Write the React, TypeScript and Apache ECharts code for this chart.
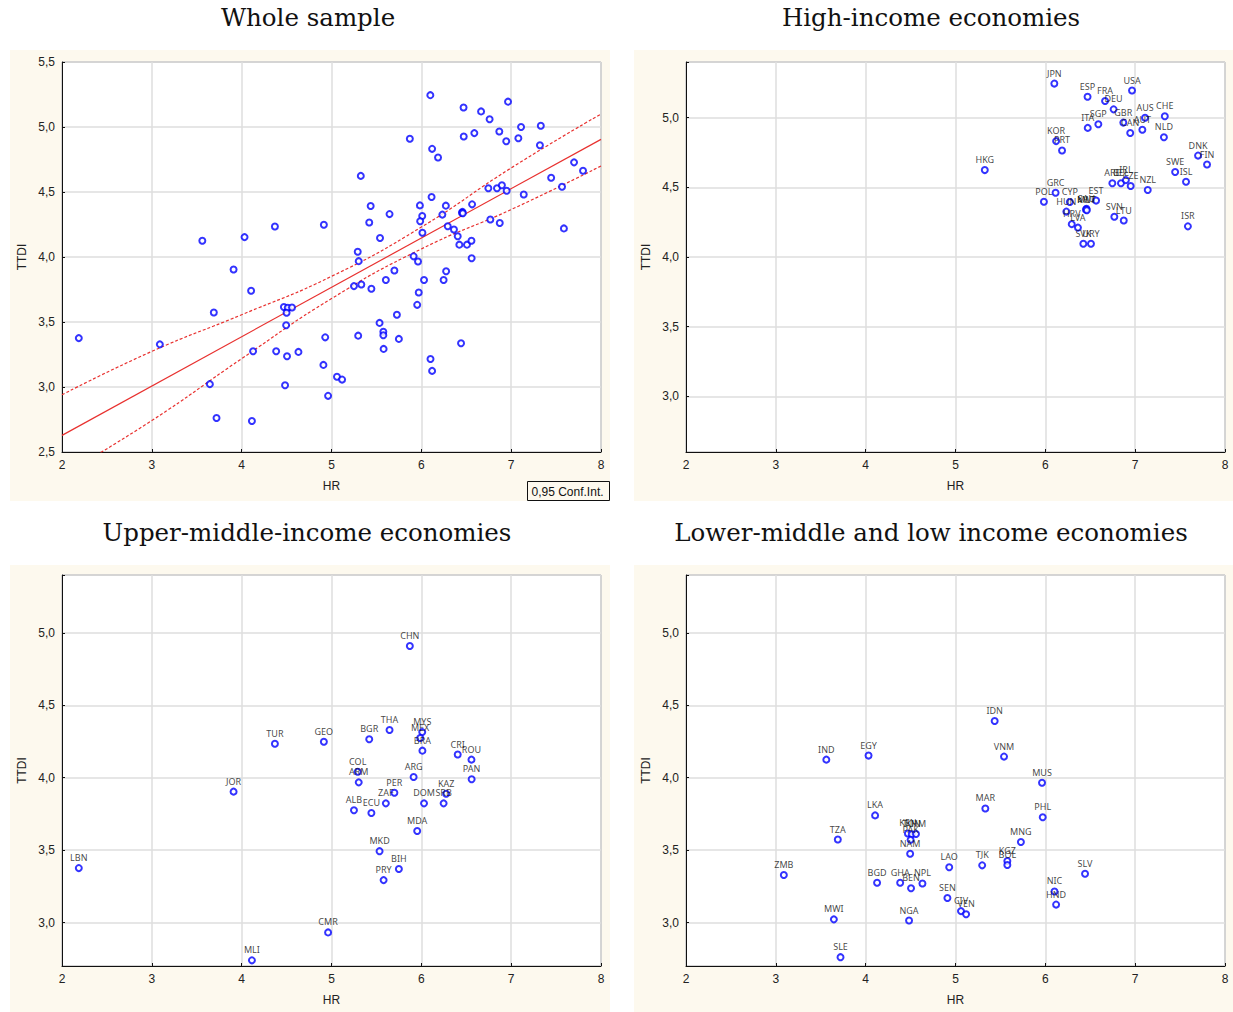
import React, { useEffect, useRef } from "react";
import * as echarts from "echarts";

// [country, HR, TTDI]
const highIncome: [string, number, number][] = [
  ["JPN", 6.10, 5.245], ["ESP", 6.47, 5.15], ["FRA", 6.665, 5.12], ["DEU", 6.76, 5.06],
  ["USA", 6.965, 5.195], ["CHE", 7.33, 5.01], ["AUS", 7.11, 5.0], ["AUT", 7.08, 4.913],
  ["GBR", 6.868, 4.965], ["CAN", 6.945, 4.89], ["SGP", 6.59, 4.953], ["ITA", 6.472, 4.927],
  ["NLD", 7.32, 4.86], ["KOR", 6.12, 4.832], ["PRT", 6.186, 4.765], ["HKG", 5.326, 4.624],
  ["DNK", 7.70, 4.728], ["FIN", 7.80, 4.664], ["SWE", 7.445, 4.61], ["ISL", 7.566, 4.54],
  ["ISR", 7.587, 4.22], ["ARE", 6.746, 4.529], ["BEL", 6.842, 4.529], ["IRL", 6.897, 4.552],
  ["CZE", 6.95, 4.51], ["NZL", 7.14, 4.481], ["POL", 5.984, 4.397], ["GRC", 6.114, 4.461],
  ["CYP", 6.273, 4.395], ["HUN", 6.234, 4.326], ["HRV", 6.294, 4.236], ["LVA", 6.363, 4.211],
  ["SAU", 6.458, 4.347], ["MLT", 6.452, 4.34], ["KWT", 6.462, 4.336], ["EST", 6.565, 4.405],
  ["SVN", 6.768, 4.289], ["LTU", 6.873, 4.262], ["SVK", 6.423, 4.095], ["URY", 6.508, 4.095],
];

const upperMiddle: [string, number, number][] = [
  ["CHN", 5.872, 4.91], ["TUR", 4.37, 4.235], ["GEO", 4.915, 4.248], ["BGR", 5.42, 4.266],
  ["THA", 5.646, 4.33], ["MYS", 6.01, 4.315], ["MEX", 5.987, 4.275], ["BRA", 6.012, 4.187],
  ["CRI", 6.405, 4.16], ["ROU", 6.558, 4.125], ["PAN", 6.56, 3.99], ["ARG", 5.914, 4.005],
  ["COL", 5.292, 4.041], ["ARM", 5.303, 3.968], ["JOR", 3.91, 3.904], ["PER", 5.70, 3.896],
  ["ZAF", 5.605, 3.823], ["ALB", 5.25, 3.776], ["ECU", 5.444, 3.756], ["DOM", 6.03, 3.823],
  ["SRB", 6.248, 3.823], ["KAZ", 6.276, 3.89], ["MDA", 5.954, 3.632], ["MKD", 5.535, 3.493],
  ["BIH", 5.75, 3.37], ["PRY", 5.58, 3.293], ["CMR", 4.962, 2.932], ["MLI", 4.114, 2.739],
  ["LBN", 2.187, 3.376],
];

const lowerMiddle: [string, number, number][] = [
  ["IDN", 5.436, 4.392], ["IND", 3.562, 4.125], ["EGY", 4.032, 4.153], ["VNM", 5.54, 4.146],
  ["MUS", 5.963, 3.965], ["MAR", 5.332, 3.788], ["PHL", 5.971, 3.727], ["LKA", 4.105, 3.74],
  ["TZA", 3.69, 3.573], ["KEN", 4.47, 3.615], ["TUN", 4.513, 3.61], ["KHM", 4.56, 3.612],
  ["PAK", 4.50, 3.571], ["NAM", 4.495, 3.475], ["ZMB", 3.089, 3.328], ["LAO", 4.93, 3.382],
  ["TJK", 5.297, 3.395], ["KGZ", 5.577, 3.425], ["BOL", 5.577, 3.398], ["MNG", 5.728, 3.556],
  ["SLV", 6.442, 3.337], ["BGD", 4.127, 3.275], ["GHA", 4.384, 3.275], ["BEN", 4.505, 3.237],
  ["NPL", 4.632, 3.27], ["SEN", 4.91, 3.17], ["CIV", 5.061, 3.079], ["VEN", 5.118, 3.057],
  ["NIC", 6.102, 3.215], ["HND", 6.12, 3.124], ["MWI", 3.646, 3.022], ["NGA", 4.483, 3.014],
  ["SLE", 3.72, 2.761],
];

// regression line and 95% confidence band
const fitX = [2, 8];
const fitY = [2.628, 4.905];
const bandX = [2, 3, 4, 5, 6, 7, 8];
const upperBandY = [2.94, 3.274, 3.556, 3.851, 4.23, 4.685, 5.1];
const lowerBandY = [2.32, 2.742, 3.218, 3.68, 4.062, 4.365, 4.7];

const panelTitles = [
  "Whole sample",
  "High-income economies",
  "Upper-middle-income economies",
  "Lower-middle and low income economies",
];
const yRanges: [number, number][] = [
  [2.5, 5.5],
  [2.6, 5.4],
  [2.7, 5.4],
  [2.7, 5.4],
];

const grids = [
  { left: 62, top: 62, width: 539, height: 390 },
  { left: 686, top: 62, width: 539, height: 390 },
  { left: 62, top: 575, width: 539, height: 391 },
  { left: 686, top: 575, width: 539, height: 391 },
];
const panelBoxes = [
  { x: 10, y: 50, w: 600, h: 451 },
  { x: 634, y: 50, w: 599, h: 451 },
  { x: 10, y: 565, w: 600, h: 447 },
  { x: 634, y: 565, w: 599, h: 447 },
];
const titlePos = [
  { x: 308, y: 5 },
  { x: 931, y: 5 },
  { x: 307, y: 520 },
  { x: 931, y: 520 },
];

const SANS = "Liberation Sans, Arial, sans-serif";
const CREAM = "#fdf9ee";

const fmt = (v: number) => {
  if (Math.abs(v * 2 - Math.round(v * 2)) > 1e-6) return "";
  return v.toFixed(1).replace(".", ",");
};

export default function App() {
  const ref = useRef<HTMLDivElement>(null);
  useEffect(() => {
    if (!ref.current) return;
    const chart = echarts.init(ref.current, undefined, { renderer: "svg" });

    const toPts = (arr: [string, number, number][]) =>
      arr.map((d) => ({ name: d[0], value: [d[1], d[2]] }));

    const groups = [highIncome, upperMiddle, lowerMiddle];
    const all = [...highIncome, ...upperMiddle, ...lowerMiddle];

    const xAxes = grids.map((_, i) => ({
      gridIndex: i,
      type: "value",
      min: 2,
      max: 8,
      interval: 1,
      name: "HR",
      nameLocation: "middle",
      nameGap: 28,
      nameTextStyle: { fontFamily: SANS, fontSize: 12, color: "#222" },
      axisLine: { show: true, onZero: false, lineStyle: { color: "#111", width: 1 } },
      axisTick: { show: true, inside: true, length: 3, lineStyle: { color: "#111" } },
      axisLabel: { fontFamily: SANS, fontSize: 12, color: "#222", margin: 7 },
      splitLine: { show: true, lineStyle: { color: "#dedede", width: 1.5 } },
    }));

    const yAxes = grids.map((_, i) => ({
      gridIndex: i,
      type: "value",
      min: yRanges[i][0],
      max: yRanges[i][1],
      ...(i === 0 ? { interval: 0.5 } : { splitNumber: 5 }),
      name: "TTDI",
      nameLocation: "middle",
      nameRotate: 90,
      nameGap: 34,
      nameTextStyle: { fontFamily: SANS, fontSize: 12, color: "#222" },
      axisLine: { show: true, onZero: false, lineStyle: { color: "#111", width: 1 } },
      axisTick: { show: true, inside: true, length: 3, lineStyle: { color: "#111" } },
      axisLabel: { fontFamily: SANS, fontSize: 12, color: "#222", margin: 7, formatter: fmt },
      splitLine: { show: true, lineStyle: { color: "#dedede", width: 1.5 } },
    }));

    const scatterStyle = {
      symbol: "emptyCircle",
      symbolSize: 6,
      itemStyle: { color: "#0000ff", borderColor: "#0000ff", borderWidth: 1.4 },
    };

    const series: any[] = [
      {
        type: "scatter",
        xAxisIndex: 0,
        yAxisIndex: 0,
        data: toPts(all),
        ...scatterStyle,
        z: 3,
      },
      {
        type: "line",
        xAxisIndex: 0,
        yAxisIndex: 0,
        data: fitX.map((x, k) => [x, fitY[k]]),
        showSymbol: false,
        lineStyle: { color: "#e8312f", width: 1.2 },
        z: 2,
      },
      {
        type: "line",
        xAxisIndex: 0,
        yAxisIndex: 0,
        smooth: true,
        data: bandX.map((x, k) => [x, upperBandY[k]]),
        showSymbol: false,
        lineStyle: { color: "#e8312f", width: 1.2, type: [3, 2] },
        z: 2,
      },
      {
        type: "line",
        xAxisIndex: 0,
        yAxisIndex: 0,
        smooth: true,
        data: bandX.map((x, k) => [x, lowerBandY[k]]),
        showSymbol: false,
        lineStyle: { color: "#e8312f", width: 1.2, type: [3, 2] },
        z: 2,
      },
    ];

    groups.forEach((g, gi) => {
      series.push({
        type: "scatter",
        xAxisIndex: gi + 1,
        yAxisIndex: gi + 1,
        data: toPts(g),
        ...scatterStyle,
        label: {
          show: true,
          position: "top",
          distance: 2,
          formatter: "{b}",
          fontFamily: "Noto Sans, sans-serif",
          fontSize: 9,
          color: "#111",
        },
        labelLayout: { hideOverlap: false },
      });
    });

    const graphics: any[] = panelBoxes.map((b) => ({
      type: "rect",
      silent: true,
      z: -100,
      shape: { x: b.x, y: b.y, width: b.w, height: b.h },
      style: { fill: CREAM },
    }));
    graphics.push({
      type: "group",
      left: 527,
      top: 481,
      children: [
        {
          type: "rect",
          shape: { x: 0, y: 0, width: 82, height: 19 },
          style: { fill: CREAM, stroke: "#111", lineWidth: 1 },
        },
        {
          type: "text",
          x: 4,
          y: 10,
          style: {
            text: "0,95 Conf.Int.",
            font: "12px " + SANS,
            fill: "#111",
            textVerticalAlign: "middle",
            verticalAlign: "middle",
          },
        },
      ],
    });

    chart.setOption({
      animation: false,
      backgroundColor: "#ffffff",
      title: panelTitles.map((t, i) => ({
        text: t,
        left: titlePos[i].x,
        top: titlePos[i].y,
        padding: 0,
        textAlign: "center",
        textStyle: {
          fontFamily: "DejaVu Serif, serif",
          fontSize: 24.5,
          fontWeight: "normal",
          color: "#111",
        },
      })),
      grid: grids.map((g) => ({
        ...g,
        show: true,
        backgroundColor: "#ffffff",
        borderColor: "#777",
        borderWidth: 1,
        containLabel: false,
      })),
      xAxis: xAxes,
      yAxis: yAxes,
      series,
      graphic: graphics,
    });

    return () => chart.dispose();
  }, []);

  return (
    <div
      ref={ref}
      style={{ position: "absolute", left: 0, top: 0, width: 1233, height: 1012 }}
    />
  );
}
